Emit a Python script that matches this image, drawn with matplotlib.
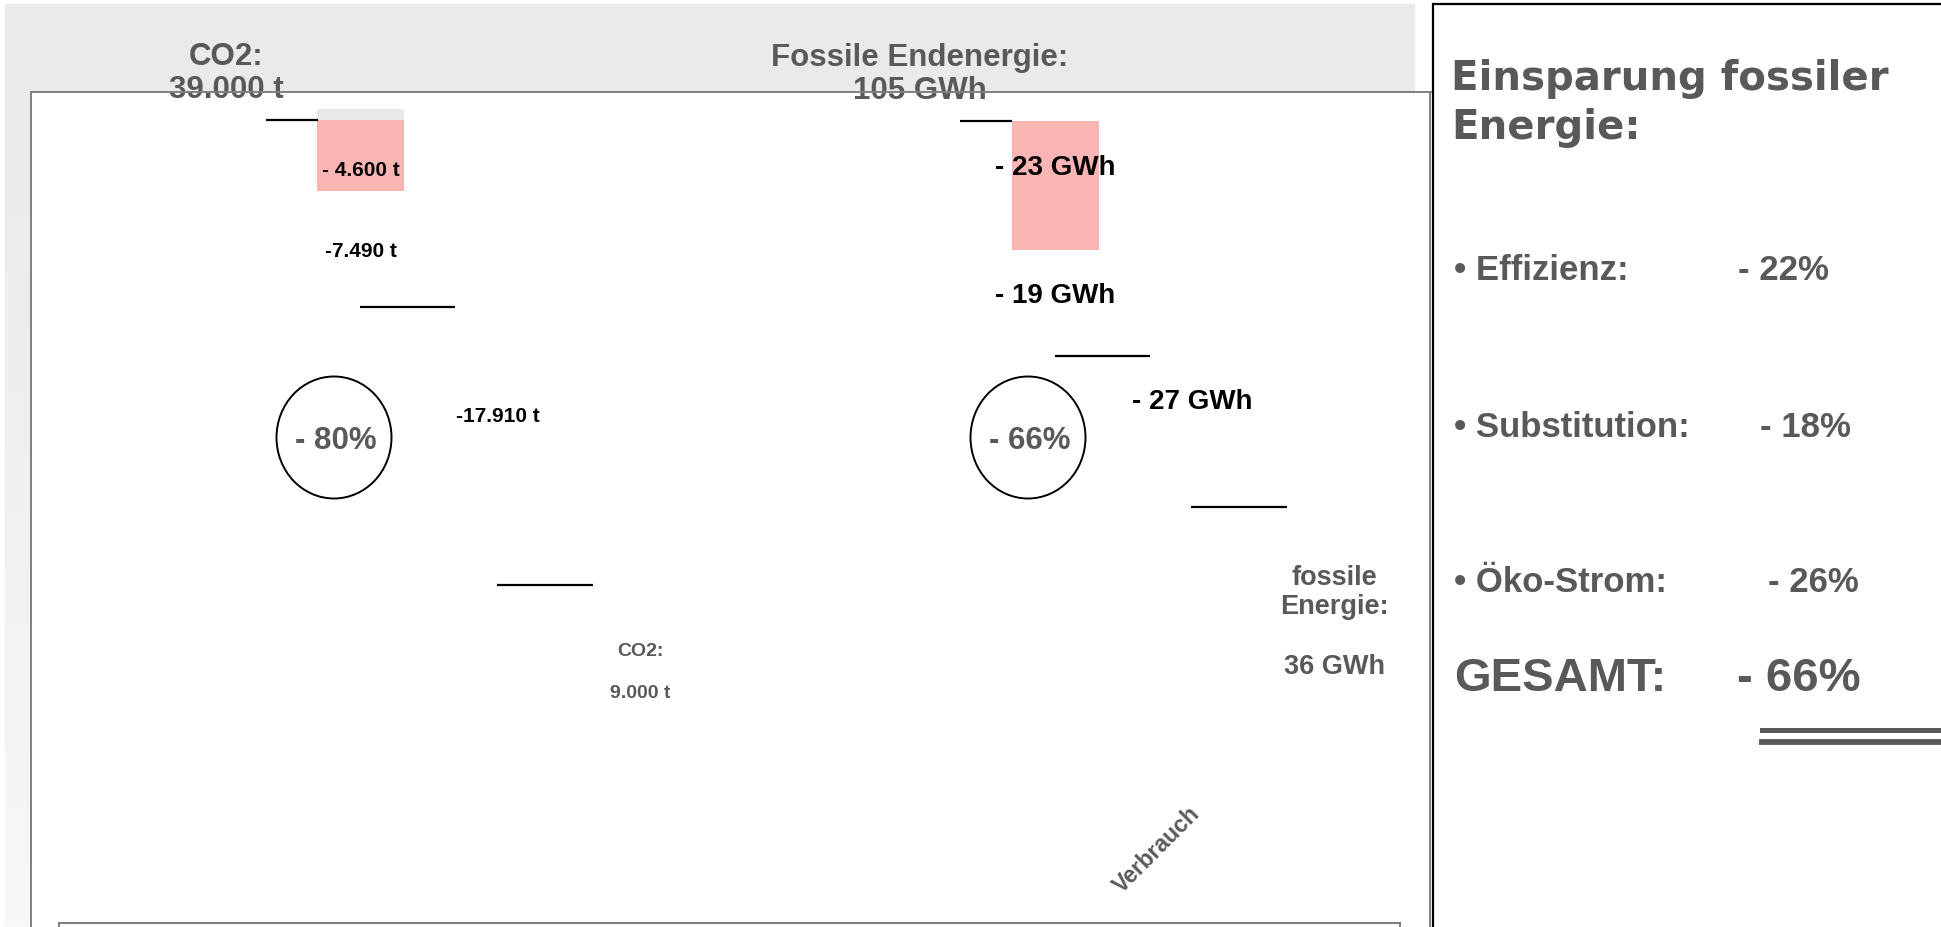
import numpy as np
import matplotlib
matplotlib.use("Agg")
import matplotlib.pyplot as plt
from matplotlib.patches import Rectangle, Ellipse
from matplotlib.lines import Line2D
from matplotlib.colors import LinearSegmentedColormap

plt.rcParams["font.family"] = ["Liberation Sans", "DejaVu Sans"]

# ---------------- data ----------------
co2_start = 39000
co2_steps = [4600, 7490, 17910]
co2_labels = ["- 4.600 t", "-7.490 t", "-17.910 t"]
co2_title = ["CO2:", "39.000 t"]
co2_end_text = ["CO2:", "9.000 t"]
co2_pct = "- 80%"
co2_cap = 700          # light grey strip on top of the first bar

en_start = 105
en_steps = [23, 19, 27]
en_labels = ["- 23 GWh", "- 19 GWh", "- 27 GWh"]
en_title = ["Fossile Endenergie:", "105 GWh"]
en_end_text = ["fossile", "Energie:", "36 GWh"]
en_pct = "- 66%"
en_cap = 0

share_names = ["Effizienz:", "Substitution:", "Öko-Strom:"]
share_pct = [22, 18, 26]
total_pct = 66

# ---------------- layout ----------------
W, H = 1941, 928
GREY_TXT = "#595959"
PINK = "#F9B4B4"


def fx(px):
    return px / W


def fy(py):
    return 1 - py / H


fig = plt.figure(figsize=(W / 100, H / 100), dpi=100)

# slide background
fig.add_artist(Rectangle((fx(5), fy(928)), (1414 - 5) / W, (928 - 5) / H,
                         transform=fig.transFigure, color="#EAEAEA", zorder=-10))
# white plot box
fig.add_artist(Rectangle((fx(31), fy(928)), (1431 - 31) / W, (928 - 93) / H,
                         transform=fig.transFigure, color="white", zorder=-5))
# light gradient strip left of the box
ax_strip = fig.add_axes([fx(5), fy(928), 26 / W, (928 - 93) / H])
ax_strip.imshow(np.linspace(0, 1, 200)[:, None], aspect="auto",
                cmap=LinearSegmentedColormap.from_list("g", ["#EAEAEA", "#F8F8F8"]))
ax_strip.axis("off")

# box borders (drawn above the texts)
for xs, ys in [((31, 1431), (93, 93)), ((31, 31), (93, 928)), ((1430, 1430), (93, 928))]:
    fig.add_artist(Line2D([fx(x) for x in xs], [fy(y) for y in ys],
                          transform=fig.transFigure, color="#808080", lw=1.4, zorder=5))
# legend box at the bottom
fig.add_artist(Rectangle((fx(59), fy(940)), (1400 - 59) / W, 16 / H,
                         transform=fig.transFigure, facecolor="white",
                         edgecolor="#808080", lw=1.5, zorder=4))
# right panel frame
fig.add_artist(Rectangle((fx(1433), fy(940)), (1960 - 1433) / W, (940 - 5) / H,
                         transform=fig.transFigure, facecolor="white",
                         edgecolor="black", lw=1.6, zorder=1))

# ---------------- waterfall groups ----------------
groups = [
    dict(x0=31, start=co2_start, steps=co2_steps, labels=co2_labels, title=co2_title,
         end=co2_end_text, pct=co2_pct, cap=co2_cap, anchor_px=121, px_per_unit=0.0155,
         lab_size=15, lab_dy=[13.4, 0.7, -30.2], end_size=14, end_dy=[66, 108]),
    dict(x0=725, start=en_start, steps=en_steps, labels=en_labels, title=en_title,
         end=en_end_text, pct=en_pct, cap=en_cap, anchor_px=122, px_per_unit=5.594,
         lab_size=20, lab_dy=[-18.3, -7.9, -30], end_size=19.5, end_dy=[70, 99, 159]),
]

bar_x = np.array([330, 377, 514])
bar_w = np.array([87, 95, 96])
lab_dx = [0, -47, -47]
start_line = (235, 287)
title_x = 195
end_x = 609

for g in groups:
    ax = fig.add_axes([fx(g["x0"]), fy(928), 694 / W, (928 - 93) / H])
    k = g["px_per_unit"]
    top = g["start"] + (g["anchor_px"] - 93) / k
    bottom = g["start"] - (928 - g["anchor_px"]) / k
    ax.set_xlim(0, 694)
    ax.set_ylim(bottom, top)
    ax.axis("off")
    ax.patch.set_visible(False)

    steps = np.array(g["steps"])
    levels = g["start"] - np.concatenate([[0], np.cumsum(steps)])

    ax.bar(bar_x, steps, bottom=levels[1:], width=bar_w,
           color=[PINK, "none", "none"], linewidth=0)
    if g["cap"]:
        ax.bar(bar_x[0], g["cap"], bottom=g["start"], width=bar_w[0],
               color="#E8E8E8", linewidth=0)

    ax.hlines(levels[0], *start_line, color="black", lw=1.6)
    ax.hlines(levels[2:], bar_x[1:] - bar_w[1:] / 2, bar_x[1:] + bar_w[1:] / 2,
              color="black", lw=1.6)

    mids = (levels[:-1] + levels[1:]) / 2
    for j, lbl in enumerate(g["labels"]):
        ax.annotate(lbl, (bar_x[j] + lab_dx[j], mids[j]),
                    xytext=(0, -g["lab_dy"][j] * 0.72), textcoords="offset points",
                    ha="center", va="center", fontsize=g["lab_size"],
                    fontweight="bold", color="black")

    for txt, dy in zip(g["title"], [-64, -31]):
        ax.annotate(txt, (title_x, levels[0]), xytext=(0, -dy * 0.72),
                    textcoords="offset points", ha="center", va="center",
                    fontsize=22.5, fontweight="bold", color=GREY_TXT)

    for txt, dy in zip(g["end"], g["end_dy"]):
        ax.annotate(txt, (end_x, levels[-1]), xytext=(0, -dy * 0.72),
                    textcoords="offset points", ha="center", va="center",
                    fontsize=g["end_size"], fontweight="bold", color=GREY_TXT)

    ax.add_patch(Ellipse((303 / 694, (928 - 438.5) / 835), 115 / 694, 122 / 835,
                         transform=ax.transAxes, fill=False, edgecolor="black", lw=1.4))
    ax.text(305 / 694, (928 - 441) / 835, g["pct"], transform=ax.transAxes,
            ha="center", va="center", fontsize=22.5, fontweight="bold", color=GREY_TXT)

fig.text(fx(1157), fy(850), "Verbrauch", rotation=45, ha="center", va="center",
         fontsize=16.5, fontweight="bold", color=GREY_TXT)

# ---------------- right panel ----------------
for txt, base in zip(["Einsparung fossiler", "Energie:"], [90, 139]):
    fig.text(fx(1451), fy(base), txt, ha="left", va="baseline", fontsize=29,
             fontweight="bold", color=GREY_TXT, family="DejaVu Sans", zorder=6)

name_base = [280, 437, 592]
value_x = [1738, 1760, 1768]
for name, pct, base, vx in zip(share_names, share_pct, name_base, value_x):
    fig.text(fx(1454), fy(base), "\u2022 " + name, ha="left", va="baseline",
             fontsize=25, fontweight="bold", color=GREY_TXT, zorder=6)
    fig.text(fx(vx), fy(base), f"- {pct}%", ha="left", va="baseline",
             fontsize=25, fontweight="bold", color=GREY_TXT, zorder=6)

fig.text(fx(1454), fy(691), "GESAMT:", ha="left", va="baseline", fontsize=34,
         fontweight="bold", color=GREY_TXT, zorder=6)
fig.text(fx(1737), fy(691), f"- {total_pct}%", ha="left", va="baseline", fontsize=34,
         fontweight="bold", color=GREY_TXT, zorder=6)

for y, lw in [(730.5, 3.6), (743, 4.2)]:
    fig.add_artist(Line2D([fx(1762), 1.0], [fy(y), fy(y)], transform=fig.transFigure,
                          color=GREY_TXT, lw=lw, zorder=6))

fig.savefig("out.png", dpi=100)
